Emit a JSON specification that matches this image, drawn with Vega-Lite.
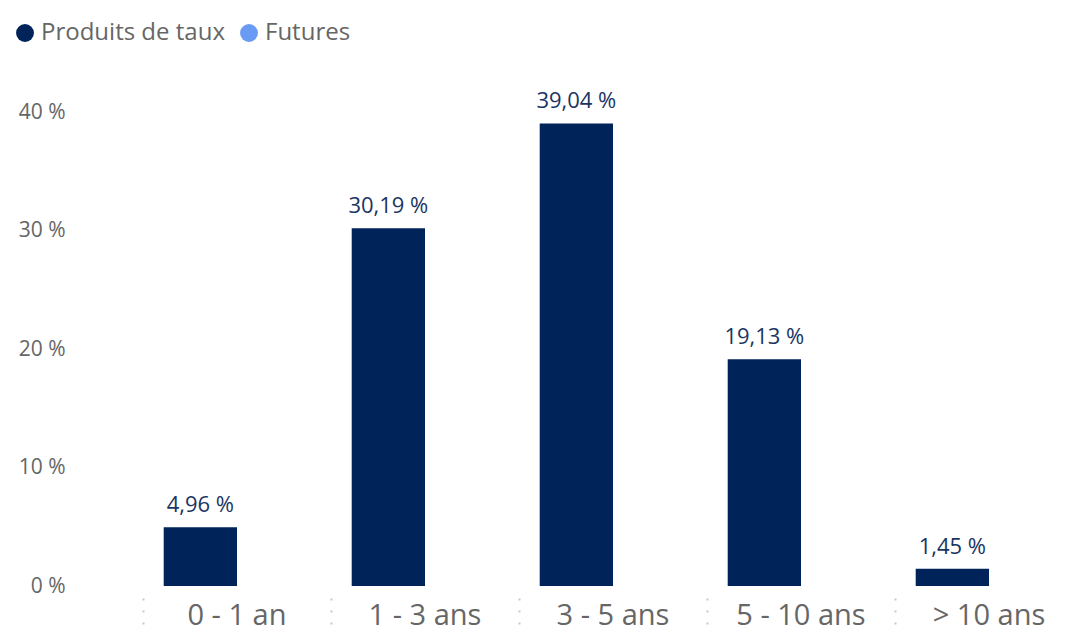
{
  "$schema": "https://vega.github.io/schema/vega-lite/v6.json",
  "width": 940,
  "height": 474,
  "autosize": {"type": "none"},
  "padding": {"left": 143, "top": 112, "right": 0, "bottom": 45},
  "background": "white",
  "config": {
    "font": "Open Sans",
    "view": {"stroke": null},
    "locale": {
      "number": {"decimal": ",", "thousands": " ", "grouping": [3], "currency": ["", " €"], "percent": " %"}
    }
  },
  "data": {
    "values": [
      {"maturite": "0 - 1 an", "serie": "Produits de taux", "part": 0.0496},
      {"maturite": "1 - 3 ans", "serie": "Produits de taux", "part": 0.3019},
      {"maturite": "3 - 5 ans", "serie": "Produits de taux", "part": 0.3904},
      {"maturite": "5 - 10 ans", "serie": "Produits de taux", "part": 0.1913},
      {"maturite": "> 10 ans", "serie": "Produits de taux", "part": 0.0145},
      {"maturite": "0 - 1 an", "serie": "Futures", "part": 0},
      {"maturite": "1 - 3 ans", "serie": "Futures", "part": 0},
      {"maturite": "3 - 5 ans", "serie": "Futures", "part": 0},
      {"maturite": "5 - 10 ans", "serie": "Futures", "part": 0},
      {"maturite": "> 10 ans", "serie": "Futures", "part": 0}
    ]
  },
  "encoding": {
    "x": {
      "field": "maturite",
      "type": "nominal",
      "sort": ["0 - 1 an", "1 - 3 ans", "3 - 5 ans", "5 - 10 ans", "> 10 ans"],
      "scale": {"paddingInner": 0, "paddingOuter": 0},
      "axis": {
        "title": null,
        "domain": false,
        "labelAngle": 0,
        "labelFontSize": 29,
        "labelColor": "#666666",
        "labelPadding": -24,
        "labelBaseline": "top",
        "offset": 12,
        "bandPosition": 0,
        "tickSize": 27,
        "tickColor": "#c8c8c8",
        "tickWidth": 2,
        "tickDash": [2, 10],
        "labelFont": "Open Sans"
      }
    },
    "xOffset": {
      "field": "serie",
      "type": "nominal",
      "sort": ["Produits de taux", "Futures"],
      "scale": {"paddingInner": 0, "paddingOuter": 0.2825}
    },
    "y": {
      "field": "part",
      "type": "quantitative",
      "scale": {"domain": [0, 0.4], "nice": false},
      "axis": {
        "title": null,
        "domain": false,
        "ticks": false,
        "grid": false,
        "values": [0, 0.1, 0.2, 0.3, 0.4],
        "format": ".0%",
        "labelFontSize": 21,
        "labelColor": "#666666",
        "labelPadding": 78
      }
    }
  },
  "layer": [
    {
      "mark": {"type": "bar"},
      "encoding": {
        "color": {
          "field": "serie",
          "type": "nominal",
          "sort": ["Produits de taux", "Futures"],
          "scale": {"domain": ["Produits de taux", "Futures"], "range": ["#00245a", "#6a9bf4"]},
          "legend": {
            "title": null,
            "orient": "none",
            "direction": "horizontal",
            "legendX": -130,
            "legendY": -91,
            "symbolType": "circle",
            "symbolSize": 320,
            "symbolStrokeWidth": 0,
            "labelFontSize": 24,
            "labelLimit": 0,
            "labelColor": "#666666",
            "labelOffset": 4,
            "columnPadding": 12
          }
        }
      }
    },
    {
      "transform": [{"filter": "datum.part > 0"}],
      "mark": {"type": "text", "baseline": "alphabetic", "dy": -15, "fontSize": 22, "color": "#1b3563"},
      "encoding": {
        "text": {"field": "part", "type": "quantitative", "format": ".2%"}
      }
    }
  ]
}
